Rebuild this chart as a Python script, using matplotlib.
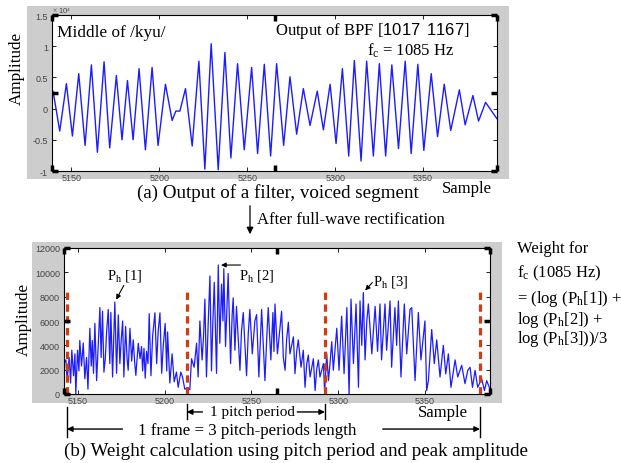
import numpy as np
import matplotlib.pyplot as plt
from matplotlib.patches import Rectangle, FancyArrowPatch

plt.rcParams['font.family'] = ['Liberation Serif', 'DejaVu Serif']
plt.rcParams['mathtext.fontset'] = 'custom'
plt.rcParams['mathtext.rm'] = 'Liberation Serif'
plt.rcParams['mathtext.it'] = 'Liberation Serif:italic'
plt.rcParams['mathtext.sf'] = 'Liberation Sans'

# ---- datos ----
# (a) salida del filtro, maximos y minimos (amplitud en unidades de 1e4)
muestras_a = [5139.0, 5139.6, 5143.4, 5147.2, 5150.6, 5154.2, 5157.8, 5161.4, 5164.8, 5168.6,
              5171.8, 5175.6, 5178.8, 5181.9, 5185.1, 5188.5, 5192.1, 5195.9, 5199.3, 5203.5,
              5207.3, 5209.4, 5211.7, 5214.9, 5218.7, 5222.5, 5225.9, 5229.5, 5233.5, 5237.3,
              5240.7, 5244.5, 5248.3, 5252.5, 5255.9, 5259.7, 5263.3, 5266.7, 5270.7, 5274.3,
              5278.1, 5281.9, 5285.7, 5289.8, 5293.3, 5297.1, 5300.5, 5304.1, 5307.7, 5310.9,
              5314.7, 5317.9, 5321.7, 5325.1, 5328.7, 5332.2, 5336.0, 5339.8, 5343.2, 5347.0,
              5350.4, 5354.6, 5358.2, 5362.0, 5365.7, 5370.6, 5373.9, 5378.3, 5381.5, 5385.5,
              5391.9]
amplitud_a = [0.15, 0.28, -0.36, 0.40, -0.44, 0.56, -0.59, 0.70, -0.70, 0.75,
              -0.63, 0.53, -0.50, 0.45, -0.50, 0.64, -0.66, 0.66, -0.59, 0.39,
              -0.19, -0.04, -0.04, 0.32, -0.60, 0.76, -0.97, 1.04, -0.98, 0.90,
              -0.79, 0.72, -0.66, 0.66, -0.72, 0.71, -0.76, 0.72, -0.59, 0.51,
              -0.41, 0.32, -0.27, 0.28, -0.34, 0.39, -0.56, 0.64, -0.76, 0.77,
              -0.84, 0.76, -0.76, 0.72, -0.76, 0.70, -0.64, 0.76, -0.72, 0.71,
              -0.67, 0.56, -0.45, 0.39, -0.35, 0.30, -0.26, 0.21, -0.20, 0.10,
              -0.16]

# (b) despues de la rectificacion de onda completa
muestras_b = [5141.9, 5143.1, 5143.8, 5145.0, 5145.8, 5146.5, 5147.5, 5148.3, 5148.8, 5149.8,
              5150.6, 5151.1, 5152.1, 5153.1, 5154.0, 5155.0, 5155.8, 5156.9, 5157.7, 5158.3,
              5159.0, 5159.8, 5160.8, 5161.7, 5162.7, 5163.4, 5164.2, 5165.0, 5165.8, 5166.5,
              5167.5, 5168.4, 5169.0, 5170.0, 5171.3, 5172.3, 5173.3, 5174.2, 5175.0, 5175.8,
              5176.5, 5177.5, 5178.4, 5179.0, 5180.0, 5181.0, 5181.9, 5182.7, 5183.4, 5184.8,
              5185.8, 5186.7, 5187.3, 5188.1, 5188.8, 5189.6, 5190.4, 5191.1, 5192.1, 5193.1,
              5194.4, 5195.4, 5196.3, 5197.3, 5198.3, 5199.2, 5200.3, 5201.2, 5201.7, 5203.0,
              5204.3, 5205.5, 5206.8, 5207.8, 5209.3, 5210.3, 5211.6, 5213.2, 5214.5, 5215.5,
              5217.0, 5218.4, 5219.3, 5220.3, 5221.6, 5222.4, 5223.2, 5224.1, 5225.1, 5226.1,
              5227.0, 5227.8, 5228.6, 5229.9, 5230.9, 5231.8, 5232.8, 5233.6, 5234.1, 5235.1,
              5236.6, 5238.0, 5238.9, 5239.5, 5240.5, 5241.4, 5242.4, 5243.4, 5244.3, 5245.3,
              5247.2, 5248.2, 5249.1, 5250.5, 5252.0, 5253.0, 5254.3, 5255.9, 5257.8, 5258.8,
              5259.7, 5261.2, 5262.4, 5263.0, 5263.6, 5265.0, 5267.4, 5268.4, 5269.4, 5270.3,
              5271.3, 5272.2, 5274.2, 5275.1, 5276.1, 5277.0, 5278.6, 5279.9, 5280.9, 5281.9,
              5282.8, 5283.8, 5285.7, 5286.7, 5287.6, 5288.6, 5289.5, 5291.5, 5292.2, 5293.4,
              5294.4, 5295.3, 5296.3, 5297.2, 5299.2, 5300.5, 5302.0, 5303.4, 5305.0, 5306.3,
              5307.4, 5308.8, 5310.3, 5311.7, 5312.6, 5313.6, 5314.5, 5315.5, 5316.5, 5317.4,
              5319.4, 5321.3, 5322.7, 5324.1, 5325.0, 5327.0, 5327.9, 5329.9, 5330.8, 5332.7,
              5333.7, 5334.7, 5336.2, 5338.1, 5339.5, 5341.4, 5342.4, 5344.3, 5346.2, 5347.7,
              5350.0, 5351.0, 5352.0, 5353.9, 5355.4, 5356.8, 5358.7, 5360.6, 5362.0, 5363.5,
              5365.0, 5367.4, 5368.9, 5371.2, 5373.1, 5374.7, 5376.0, 5377.4, 5378.9, 5380.4,
              5382.7, 5384.3, 5385.6, 5387.5]
amplitud_b = [2500, 2800, 1100, 3000, 900, 3600, 1500, 3300, 0, 3600,
              1900, 4400, 2300, 4200, 1250, 3000, 400, 5400, 2300, 4400,
              1700, 5800, 1100, 4000, 7100, 3000, 6800, 1800, 2900, 5000,
              6950, 2500, 6700, 1400, 7560, 1700, 6500, 2500, 4500, 6000,
              1400, 5560, 2800, 1950, 5400, 2700, 4450, 2650, 1530, 4170,
              2900, 3900, 1900, 3750, 1300, 3500, 2500, 6600, 1500, 4800,
              6670, 2500, 5200, 6670, 1700, 4000, 5800, 1900, 5100, 900,
              3300, 1000, 1800, 550, 1800, 1400, 400, 500, 360, 2900,
              2200, 4170, 1400, 6000, 2800, 4700, 7800, 1400, 5800, 9700,
              1900, 6000, 9170, 1700, 10600, 4170, 9030, 6000, 10300, 3900,
              9900, 2500, 6500, 7900, 3600, 7200, 4500, 1950, 5200, 6700,
              1500, 5000, 6950, 3300, 6000, 6530, 1400, 6950, 1100, 4500,
              7100, 2800, 6700, 3500, 7400, 3300, 6800, 3000, 1950, 4500,
              5900, 3300, 4700, 1670, 3500, 4450, 2200, 3600, 550, 2500,
              3200, 1400, 2900, 280, 2000, 2800, 1400, 2500, 200, 3300,
              1100, 2500, 4300, 1950, 5400, 1950, 6400, 1670, 7100, 0,
              7800, 2500, 7400, 550, 7650, 4000, 8340, 2800, 6000, 7400,
              3300, 7200, 3500, 7400, 2800, 7400, 3600, 7650, 2200, 7100,
              4000, 7650, 1400, 7400, 3300, 6950, 7100, 1100, 6700, 2800,
              6000, 280, 1100, 5300, 2500, 4450, 1400, 4000, 1650, 3300,
              550, 2800, 1400, 2360, 850, 1950, 2200, 550, 1950, 550,
              1250, 280, 1100, 400]

marcas_pitch = [5143.7, 5212.8, 5292.4, 5381.7]

ticks_x = [5150, 5200, 5250, 5300, 5350]
ticks_ya = [-1, -0.5, 0, 0.5, 1, 1.5]
etiquetas_ya = ['-1', '-0.5', '0', '0.5', '1', '1.5']
ticks_yb = [0, 2000, 4000, 6000, 8000, 10000, 12000]

W, H = 621, 464
def fx(x): return x / W
def fy(y): return 1 - y / H

fig = plt.figure(figsize=(6.21, 4.64), dpi=100)
GRIS = '#cdcdcd'
AZUL = '#1c1cff'

# paneles grises de fondo
fig.add_artist(Rectangle((fx(27), fy(180)), (509 - 27) / W, (180 - 7) / H,
                         transform=fig.transFigure, facecolor=GRIS, edgecolor='none', zorder=0))
fig.add_artist(Rectangle((fx(32), fy(404)), (502 - 32) / W, (404 - 243) / H,
                         transform=fig.transFigure, facecolor=GRIS, edgecolor='none', zorder=0))

def estilo(ax):
    ax.tick_params(direction='in', length=3, width=0.6, top=True, right=True,
                   labelsize=6.5, labelcolor='#444444', labelfontfamily='Liberation Sans')
    ax.tick_params(axis='x', pad=1.5)
    ax.tick_params(axis='y', pad=3)
    for s in ax.spines.values():
        s.set_linewidth(0.8)

def marcas_negras(rect):
    # ejes superpuestos de matlab que dejan marcas gruesas
    am = fig.add_axes(rect, frameon=False)
    am.set_xlim(0, 1)
    am.set_ylim(0, 1)
    am.set_xticks([0, 0.5, 1])
    am.set_yticks([0, 0.5, 1])
    am.tick_params(direction='in', length=4, width=2.5, color='k', top=True, right=True,
                   labelbottom=False, labelleft=False)
    am.patch.set_visible(False)

# ---- (a) ----
rect_a = [fx(52), fy(172), 445 / W, 156 / H]
ax1 = fig.add_axes(rect_a)
ax1.plot(muestras_a, amplitud_a, color=AZUL, lw=1.0)
ax1.set_xlim(5139, 5392)
ax1.set_ylim(-1, 1.5)
ax1.set_xticks(ticks_x)
ax1.set_yticks(ticks_ya)
ax1.set_yticklabels(etiquetas_ya)
estilo(ax1)
marcas_negras(rect_a)

fig.text(fx(52), fy(11), r'$\times$ 10$^4$', fontsize=5.5, color='#444444',
         family='Liberation Sans', va='center', ha='left')
fig.text(fx(17), fy(68), 'Amplitude', rotation=90, fontsize=12.3, ha='center', va='center')
fig.text(fx(57), fy(33), 'Middle of /kyu/', fontsize=12.4, ha='left', va='center')
fig.text(fx(275), fy(31), r'Output of BPF [$\mathsf{1017\;\;1167}$]', fontsize=12,
         ha='left', va='center')
fig.text(fx(367), fy(56), r'f$_\mathrm{c}$ = 1085 Hz', fontsize=12, ha='left', va='baseline')
fig.text(fx(467), fy(189), 'Sample', fontsize=12, ha='center', va='center')
fig.text(fx(277.5), fy(193), '(a) Output of a filter, voiced segment', fontsize=13.7,
         ha='center', va='center')

# flecha de rectificacion
fig.add_artist(FancyArrowPatch((fx(250), fy(204)), (fx(250), fy(238)), transform=fig.transFigure,
                               arrowstyle='-|>', mutation_scale=10, color='k', lw=0.9))
fig.text(fx(257), fy(220), 'After full-wave rectification', fontsize=12, ha='left', va='center')

# ---- (b) ----
rect_b = [fx(64), fy(395), 426 / W, 146 / H]
ax2 = fig.add_axes(rect_b)
ax2.plot(muestras_b, amplitud_b, color=AZUL, lw=0.9)
ax2.set_xlim(5142, 5387.5)
ax2.set_ylim(0, 12000)
ax2.set_xticks(ticks_x)
ax2.set_yticks(ticks_yb)
estilo(ax2)
marcas_negras(rect_b)

ax2.vlines(marcas_pitch, 0, 8700, colors='#d23c12', linestyles=(0, (2.3, 1.4)), lw=2.3, zorder=3)

fig.text(fx(24), fy(319), 'Amplitude', rotation=90, fontsize=12.3, ha='center', va='center')

# picos P_h por periodo
bx = np.array(muestras_b)
by = np.array(amplitud_b)
picos = []
for a, b in zip(marcas_pitch[:-1], marcas_pitch[1:]):
    m = (bx > a) & (bx < b)
    i = np.argmax(np.where(m, by, -1))
    picos.append((bx[i], by[i]))

flecha = dict(arrowstyle='-|>', color='k', lw=0.8, mutation_scale=7, shrinkA=0, shrinkB=2)
offs_texto = [(7, 19.5), (28, -7), (19.5, 8.6)]
offs_flecha = [(6.5, 12), (16, 0), (6.5, 7.2)]
for k, (p, ot, of) in enumerate(zip(picos, offs_texto, offs_flecha)):
    ax2.annotate('', xy=p, xytext=of, textcoords='offset points', arrowprops=flecha)
    ax2.annotate(r'P$_\mathrm{h}$ [%d]' % (k + 1), xy=p, xytext=ot, textcoords='offset points',
                 fontsize=10.5, ha='center', va='center')

# marcas bajo el eje y flechas
tr = ax2.get_xaxis_transform()
for j, mx in enumerate(marcas_pitch):
    if j in (0, 3):
        ax2.plot([mx, mx], [-0.089, -0.295], color='k', lw=1, transform=tr, clip_on=False)
    else:
        ax2.plot([mx, mx], [-0.068, -0.171], color='k', lw=1, transform=tr, clip_on=False)

fl = dict(arrowstyle='-|>', color='k', lw=1, mutation_scale=8, shrinkA=0, shrinkB=0)
y_pp = -0.123
ax2.annotate('', xy=(marcas_pitch[1], y_pp), xycoords=tr,
             xytext=(marcas_pitch[1] + 9, y_pp), textcoords=tr, arrowprops=fl)
ax2.annotate('', xy=(marcas_pitch[2], y_pp), xycoords=tr,
             xytext=(marcas_pitch[2] - 16, y_pp), textcoords=tr, arrowprops=fl)
ax2.text((marcas_pitch[1] + marcas_pitch[2]) / 2 - 2, y_pp, '1 pitch period', transform=tr,
         fontsize=11, ha='center', va='center')

y_fr = -0.24
ax2.annotate('', xy=(marcas_pitch[0], y_fr), xycoords=tr,
             xytext=(marcas_pitch[0] + 32, y_fr), textcoords=tr, arrowprops=fl)
ax2.annotate('', xy=(marcas_pitch[3], y_fr), xycoords=tr,
             xytext=(marcas_pitch[3] - 56, y_fr), textcoords=tr, arrowprops=fl)
fig.text(fx(247), fy(431), '1 frame = 3 pitch-periods length', fontsize=12.2,
         ha='center', va='center')
fig.text(fx(443), fy(413), 'Sample', fontsize=12, ha='center', va='center')
fig.text(fx(296.5), fy(451), '(b) Weight calculation using pitch period and peak amplitude',
         fontsize=13.7, ha='center', va='center')

# formula del peso
lineas = ['Weight for',
          r'f$_\mathrm{c}$ (1085 Hz)',
          r'= (log (P$_\mathrm{h}$[1]) +',
          r'log (P$_\mathrm{h}$[2]) +',
          r'log (P$_\mathrm{h}$[3]))/3']
bases = [253, 277, 303, 324, 343]
for t, yb in zip(lineas, bases):
    fig.text(fx(517), fy(yb), t, fontsize=12, ha='left', va='baseline')

fig.savefig('out.png', dpi=100)
